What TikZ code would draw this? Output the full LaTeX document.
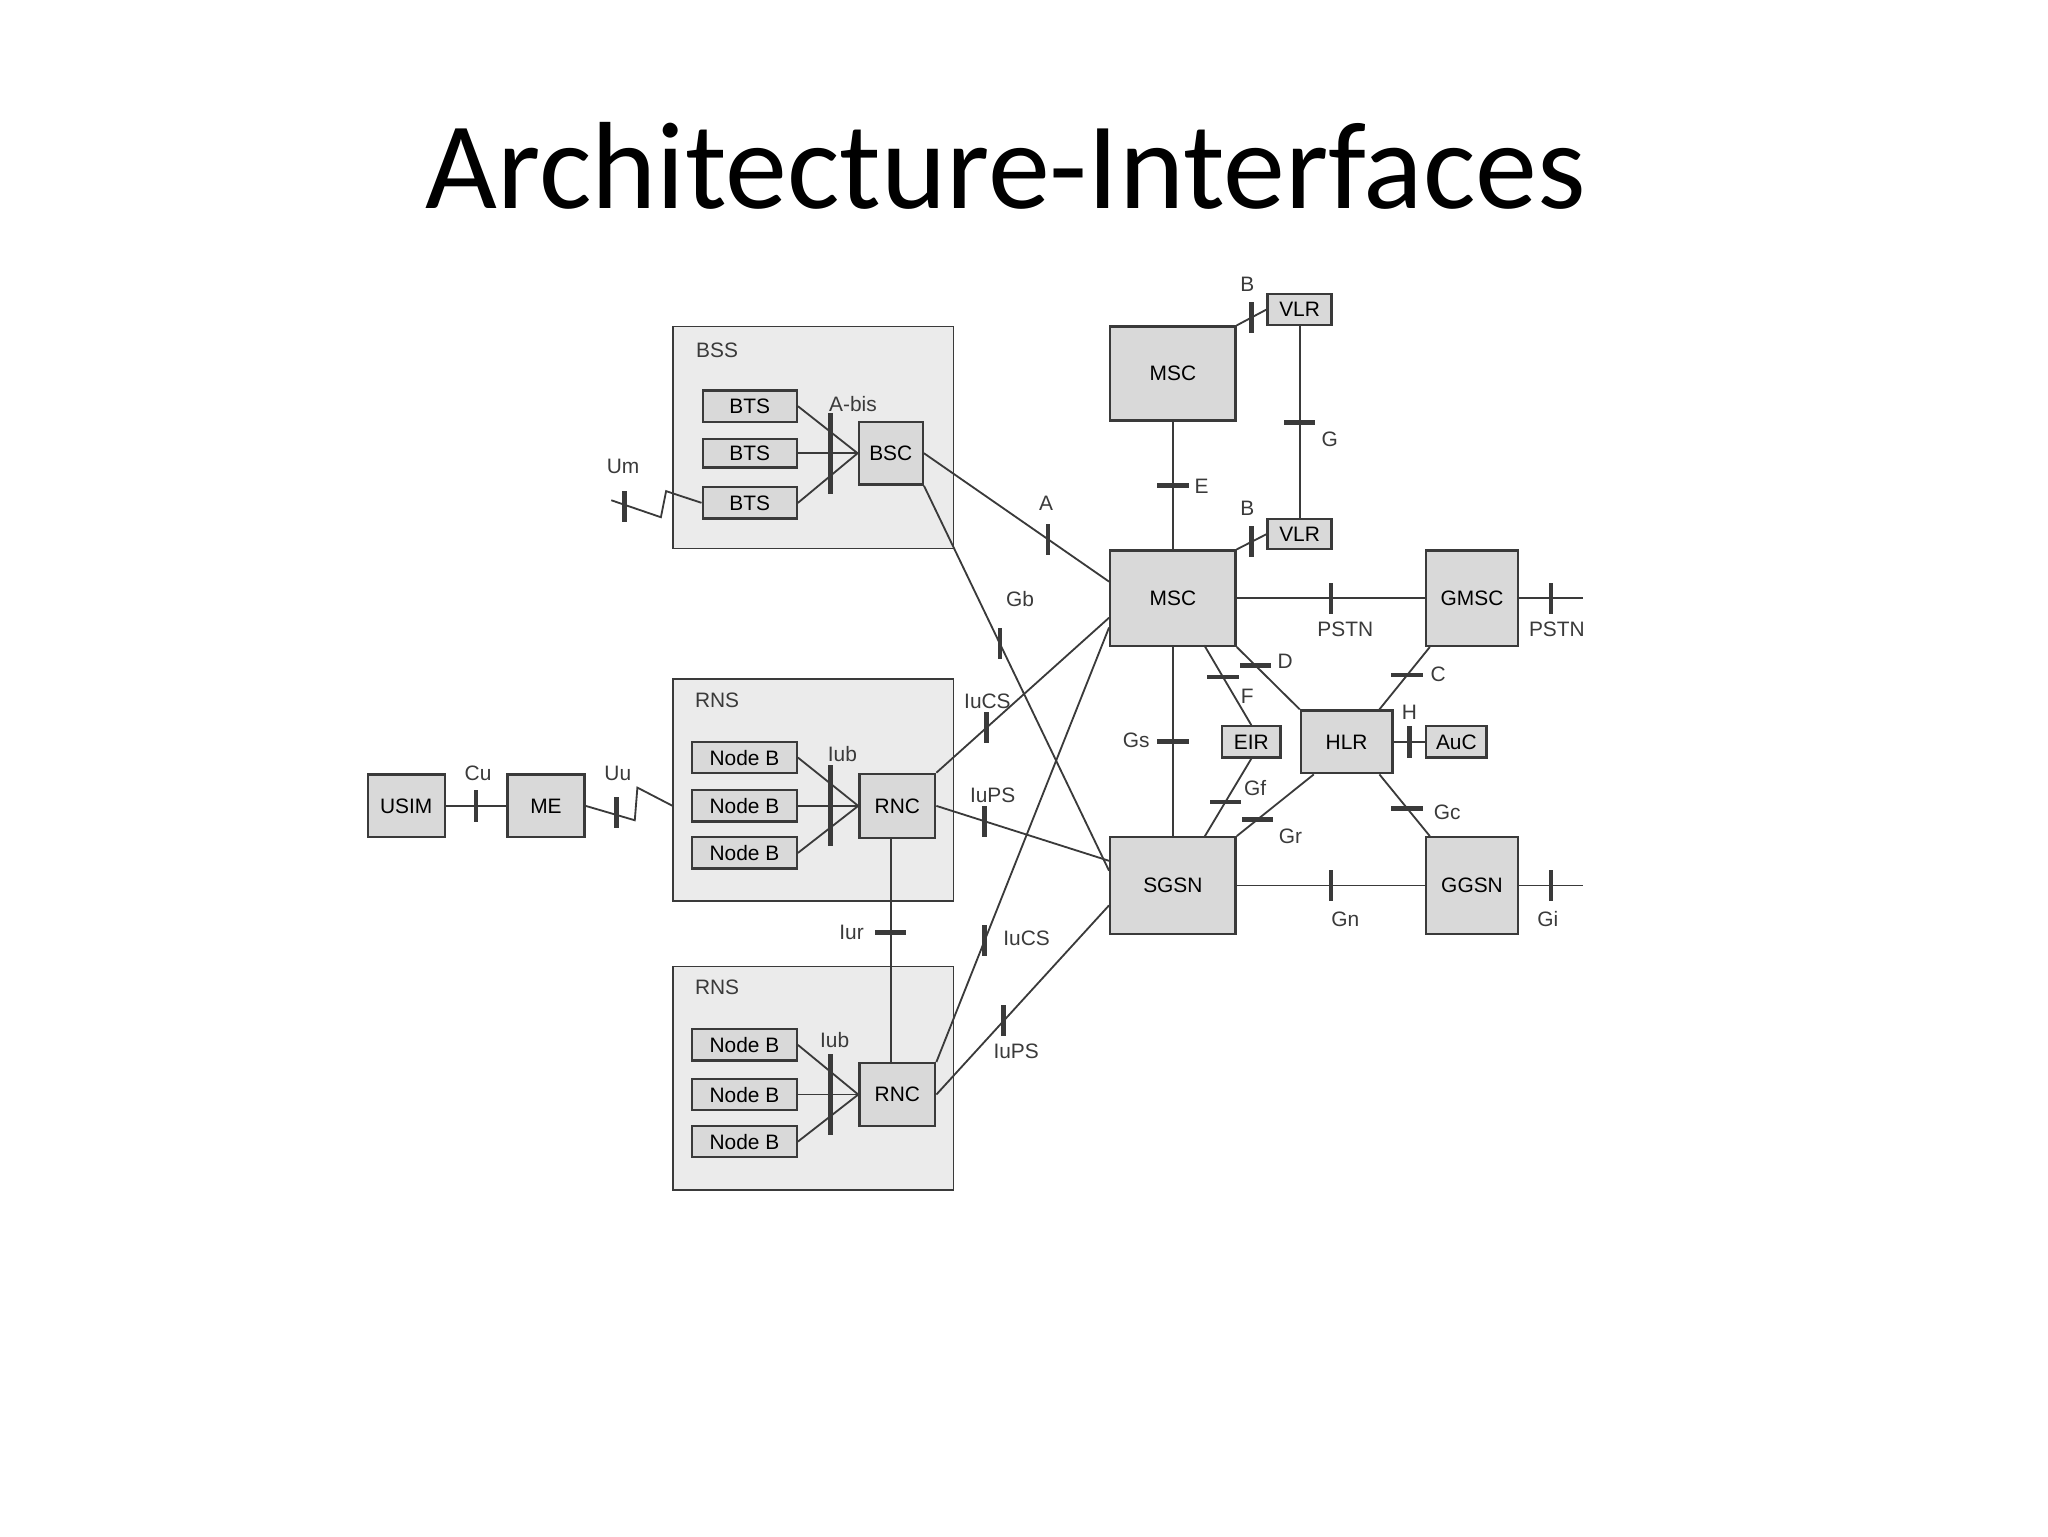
\documentclass[tikz,border=0pt]{standalone}
\usepackage{fontspec}
\setmainfont{Liberation Sans}
\newfontfamily\titlefont{Carlito}
\usetikzlibrary{calc}
\definecolor{ln}{HTML}{3A3A3A}
\begin{document}
\begin{tikzpicture}[x=1pt,y=-1pt,
  box/.style={draw=ln,line width=1.8pt,fill=black!15,inner sep=0,font=\fontsize{16}{18}\selectfont},
  grp/.style={draw=ln,line width=1.3pt,fill=black!8},
  lab/.style={font=\fontsize{16}{18}\selectfont,text=ln,inner sep=1pt},
  tv/.style={fill=ln,inner sep=0,minimum width=3.5pt,minimum height=24pt},
  th/.style={fill=ln,inner sep=0,minimum width=24pt,minimum height=3.5pt},
  c/.style={draw=ln,line width=1.4pt}]
\useasboundingbox (0,0) rectangle (1568,1176);
\node[font=\titlefont\fontsize{95}{106}\selectfont] (title) at (770,127) {Architecture-Interfaces};
% groups
\draw[grp] (515,250) rectangle (730,420);
\draw[grp] (515,520) rectangle (730,690);
\draw[grp] (515,740) rectangle (730,911);
\node[lab] (lbss) at (549,268) {BSS};
\node[lab] (lrns1) at (549,536) {RNS};
\node[lab] (lrns2) at (549,756) {RNS};
% BSS
\node[box,minimum width=72,minimum height=24] (bts1) at (574,311) {BTS};
\node[box,minimum width=72,minimum height=22] (bts2) at (574,347) {BTS};
\node[box,minimum width=72,minimum height=24] (bts3) at (574,385) {BTS};
\node[box,minimum width=49,minimum height=48] (bsc) at (682,347) {BSC};
\foreach \b in {bts1,bts2,bts3}{\draw[c] (\b.east) -- (bsc.west);}
\node[tv,minimum height=62] (tabis) at (636,347) {};
\node[lab] (labis) at (653,309) {A-bis};
% RNS1
\foreach \i/\y in {1/580,2/617,3/653}{\node[box,minimum width=80,minimum height=24] (nb\i) at (570,\y) {Node B};}
\node[box,minimum width=58,minimum height=49] (rnc1) at (687,617) {RNC};
\foreach \b in {nb1,nb2,nb3}{\draw[c] (\b.east) -- (rnc1.west);}
\node[tv,minimum height=62] (tiub1) at (636,617) {};
\node[lab] (liub1) at (645,577) {Iub};
% RNS2
\foreach \i/\y in {4/800,5/838,6/874}{\node[box,minimum width=80,minimum height=24] (nb\i) at (570,\y) {Node B};}
\node[box,minimum width=58,minimum height=48] (rnc2) at (687,838) {RNC};
\foreach \b in {nb4,nb5,nb6}{\draw[c] (\b.east) -- (rnc2.west);}
\node[tv,minimum height=62] (tiub2) at (636,838) {};
\node[lab] (liub2) at (639,796) {Iub};
% Iur
\draw[c] ($(rnc1.south)+(-5,0)$) -- ($(rnc2.north)+(-5,0)$) node[th,pos=0.42] (tiur) {};
\node[lab] (liur) at (652,714) {Iur};
% USIM ME
\node[box,minimum width=59,minimum height=48] (usim) at (311,617) {USIM};
\node[box,minimum width=59,minimum height=48] (me) at (418,617) {ME};
\draw[c] (usim) -- (me) node[tv,pos=0.5] (tcu) {};
\node[lab] (lcu) at (366,592) {Cu};
\coordinate (uua) at (486,628); \coordinate (uub) at (488,603); \coordinate (rnsw) at (515,617);
\draw[c] (me.east) -- (uua) -- (uub) -- (rnsw);
\node[tv] (tuu) at (472,622) {};
\node[lab] (luu) at (473,592) {Uu};
\coordinate (uma) at (510,376); \coordinate (umb) at (506,396); \coordinate (umc) at (468,383);
\draw[c] (bts3.west) -- (uma) -- (umb) -- (umc);
\node[tv] (tum) at (478,388) {};
\node[lab] (lum) at (477,357) {Um};
% core
\node[box,minimum width=96,minimum height=72] (msc1) at (898,286) {MSC};
\node[box,minimum width=96,minimum height=73] (msc2) at (898,458) {MSC};
\node[box,minimum width=49,minimum height=24] (vlr1) at (995,237) {VLR};
\node[box,minimum width=49,minimum height=23] (vlr2) at (995,409) {VLR};
\node[box,minimum width=70,minimum height=73] (gmsc) at (1127,458) {GMSC};
\node[box,minimum width=70,minimum height=48] (hlr) at (1031,568) {HLR};
\node[box,minimum width=46,minimum height=24] (auc) at (1115,568) {AuC};
\node[box,minimum width=45,minimum height=24] (eir) at (958,568) {EIR};
\node[box,minimum width=96,minimum height=74] (sgsn) at (898,678) {SGSN};
\node[box,minimum width=70,minimum height=74] (ggsn) at (1127,678) {GGSN};
% access to core
\coordinate (mA) at ($(msc2.north west)!0.33!(msc2.south west)$);
\coordinate (mB) at ($(msc2.north west)!0.7!(msc2.south west)$);
\coordinate (mC) at ($(msc2.north west)!0.8!(msc2.south west)$);
\coordinate (sA) at ($(sgsn.north west)!0.25!(sgsn.south west)$);
\coordinate (sB) at ($(sgsn.north west)!0.35!(sgsn.south west)$);
\coordinate (sC) at ($(sgsn.north west)!0.7!(sgsn.south west)$);
\draw[c] (bsc.east) -- (mA) node[tv,pos=0.67] (ta) {};
\node[lab] (la) at (801,385) {A};
\draw[c] (bsc.south east) -- (sB) node[tv,pos=0.41] (tgb) {};
\node[lab] (lgb) at (781,459) {Gb};
\draw[c] (rnc1.north east) -- (mB) node[tv,pos=0.29] (tiucs1) {};
\node[lab] (liucs1) at (756,537) {IuCS};
\draw[c] (rnc1.east) -- (sA) node[tv,pos=0.28] (tiups1) {};
\node[lab] (liups1) at (760,609) {IuPS};
\draw[c] (rnc2.north east) -- (mC) node[tv,pos=0.28] (tiucs2) {};
\node[lab] (liucs2) at (786,718) {IuCS};
\draw[c] (rnc2.east) -- (sC) node[tv,pos=0.39] (tiups2) {};
\node[lab] (liups2) at (778,805) {IuPS};
% core links
\draw[c] (msc1) -- (msc2) node[th,pos=0.5] (te) {};
\node[lab] (le) at (920,372) {E};
\draw[c] (msc1.north east) -- (vlr1.west) node[tv,pos=0.5] (tb1) {};
\node[lab] (lb1) at (955,218) {B};
\draw[c] (vlr1) -- (vlr2) node[th,pos=0.5] (tg) {};
\node[lab] (lg) at (1018,336) {G};
\draw[c] (msc2.north east) -- (vlr2.west) node[tv,pos=0.5] (tb2) {};
\node[lab] (lb2) at (955,389) {B};
\draw[c] (msc2) -- (gmsc) node[tv,pos=0.5] (tpstn) {};
\node[lab] (lpstn1) at (1030,482) {PSTN};
\coordinate (gmscout) at (1212,458);
\draw[c] (gmsc) -- (gmscout) node[tv,pos=0.5] (tpstn2) {};
\node[lab] (lpstn2) at (1192,482) {PSTN};
\draw[c] (msc2.south east) -- (hlr.north west) node[th,pos=0.3] (td) {};
\node[lab] (ld) at (984,506) {D};
\coordinate (mF) at (922,494);
\draw[c] (mF) -- (eir.north) node[th,pos=0.4] (tf) {};
\node[lab] (lf) at (955,533) {F};
\draw[c] (msc2) -- (sgsn) node[th,pos=0.5] (tgs) {};
\node[lab] (lgs) at (870,567) {Gs};
\coordinate (sF) at (922,641);
\draw[c] (sF) -- (eir.south) node[th,pos=0.45] (tgf) {};
\node[lab] (lgf) at (961,603) {Gf};
\draw[c] (sgsn.north east) -- ($(hlr.south west)!0.15!(hlr.south east)$) node[th,pos=0.27] (tgr) {};
\node[lab] (lgr) at (988,640) {Gr};
\draw[c] ($(hlr.north west)!0.85!(hlr.north east)$) -- ($(gmsc.south west)!0.05!(gmsc.south east)$) node[th,pos=0.55] (tc) {};
\node[lab] (lc) at (1101,516) {C};
\draw[c] (hlr) -- (auc) node[tv,pos=0.5] (th) {};
\node[lab] (lh) at (1079,545) {H};
\draw[c] ($(hlr.south west)!0.85!(hlr.south east)$) -- ($(ggsn.north west)!0.05!(ggsn.north east)$) node[th,pos=0.55] (tgc) {};
\node[lab] (lgc) at (1108,622) {Gc};
\draw[c] (sgsn) -- (ggsn) node[tv,pos=0.5] (tgn) {};
\node[lab] (lgn) at (1030,704) {Gn};
\coordinate (ggsnout) at (1212,678);
\draw[c] (ggsn) -- (ggsnout) node[tv,pos=0.5] (tgi) {};
\node[lab] (lgi) at (1185,704) {Gi};
\end{tikzpicture}
\end{document}
